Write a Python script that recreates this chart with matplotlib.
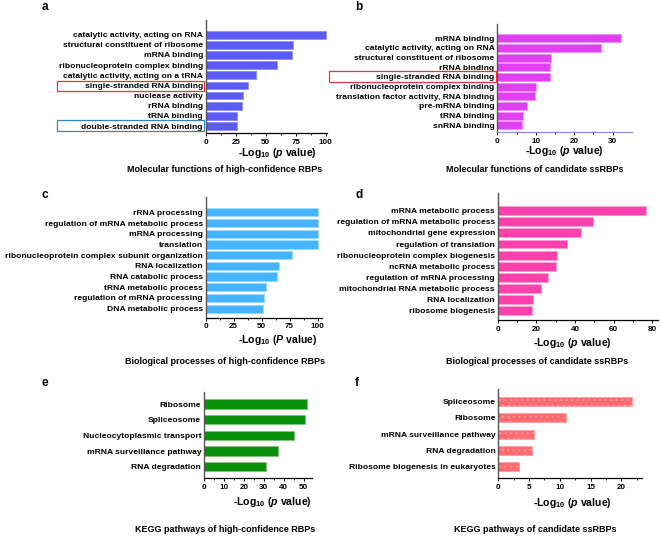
import matplotlib.pyplot as plt
from matplotlib.patches import Rectangle

plt.rcParams['font.family'] = ['Liberation Sans', 'DejaVu Sans']
plt.rcParams['font.weight'] = 'bold'
plt.rcParams['mathtext.fontset'] = 'custom'
plt.rcParams['mathtext.rm'] = 'Liberation Sans:bold'
plt.rcParams['mathtext.bf'] = 'Liberation Sans:bold'
plt.rcParams['mathtext.it'] = 'Liberation Sans:bold:italic'
plt.rcParams['mathtext.bfit'] = 'Liberation Sans:bold:italic'
plt.rcParams['hatch.linewidth'] = 0.6

# ---- data ----
mf_hc_terms = ['catalytic activity, acting on RNA', 'structural constituent of ribosome',
               'mRNA binding', 'ribonucleoprotein complex binding',
               'catalytic activity, acting on a tRNA', 'single-stranded RNA binding',
               'nuclease activity', 'rRNA binding', 'tRNA binding', 'double-stranded RNA binding']
mf_hc_vals = [100, 72.3, 71.5, 59.3, 42, 35.2, 30.7, 30.2, 26.3, 25.7]

mf_ss_terms = ['mRNA binding', 'catalytic activity, acting on RNA', 'structural constituent of ribosome',
               'rRNA binding', 'single-stranded RNA binding', 'ribonucleoprotein complex binding',
               'translation factor activity, RNA binding', 'pre-mRNA binding', 'tRNA binding',
               'snRNA binding']
mf_ss_vals = [32.3, 26.9, 13.9, 13.7, 13.7, 10.1, 9.9, 7.6, 6.6, 6.4]

bp_hc_terms = ['rRNA processing', 'regulation of mRNA metabolic process', 'mRNA processing',
               'translation', 'ribonucleoprotein complex subunit organization', 'RNA localization',
               'RNA catabolic process', 'tRNA metabolic process', 'regulation of mRNA processing',
               'DNA metabolic process']
bp_hc_vals = [100, 100, 100, 100, 77.3, 65.4, 64.2, 53.7, 52.5, 51]

bp_ss_terms = ['mRNA metabolic process', 'regulation of mRNA metabolic process',
               'mitochondrial gene expression', 'regulation of translation',
               'ribonucleoprotein complex biogenesis', 'ncRNA metabolic process',
               'regulation of mRNA processing', 'mitochondrial RNA metabolic process',
               'RNA localization', 'ribosome biogenesis']
bp_ss_vals = [76.7, 49.5, 42.9, 36, 30.5, 30.2, 25.9, 22.2, 18.1, 17.9]

kegg_hc_terms = ['Ribosome', 'Spliceosome', 'Nucleocytoplasmic transport',
                 'mRNA surveillance pathway', 'RNA degradation']
kegg_hc_vals = [51.5, 50.8, 45.3, 37, 31.1]

kegg_ss_terms = ['Spliceosome', 'Ribosome', 'mRNA surveillance pathway', 'RNA degradation',
                 'Ribosome biogenesis in eukaryotes']
kegg_ss_vals = [21.7, 11, 5.85, 5.4, 3.4]

W, H = 661, 537
fig = plt.figure(figsize=(W / 100, H / 100), dpi=100)


def px_axes(left, top, right, bottom):
    return fig.add_axes([left / W, 1 - bottom / H, (right - left) / W, (bottom - top) / H])


def panel(box, terms, vals, color, edge, xmax, xticks, minor, ylim_pad, bar_h,
          letter, letter_xy, xlabel, xlabel_xy, title, title_xy, hatch=None, bottom_color='black'):
    ax = px_axes(*box)
    n = len(terms)
    ypos = list(range(n))
    ax.barh(ypos, vals, height=bar_h, color=color, edgecolor=edge, linewidth=0.6, hatch=hatch)
    ax.set_yticks(ypos)
    ax.set_yticklabels(terms, fontsize=6.1, fontweight='bold')
    ax.set_ylim(n - 1 + ylim_pad[1], -ylim_pad[0])
    ax.set_xlim(0, xmax)
    ax.set_xticks(xticks)
    ax.set_xticks(minor, minor=True)
    ax.tick_params(axis='x', labelsize=5.8, length=2.5, width=0.7, pad=1.5)
    ax.tick_params(axis='x', which='minor', length=1.5, width=0.6)
    ax.tick_params(axis='y', length=0, pad=2)
    for lab in ax.get_xticklabels():
        lab.set_fontweight('bold')
    for s in ['top', 'right']:
        ax.spines[s].set_visible(False)
    ax.spines['left'].set_color('#555555')
    ax.spines['left'].set_linewidth(1.0)
    ax.spines['bottom'].set_color(bottom_color)
    ax.spines['bottom'].set_linewidth(0.9)
    fig.text(letter_xy[0] / W, 1 - letter_xy[1] / H, letter, fontsize=8.5, fontweight='bold',
             ha='center', va='center')
    fig.text(xlabel_xy[0] / W, 1 - xlabel_xy[1] / H, xlabel, fontsize=7.6, fontweight='bold',
             ha='center', va='center')
    fig.text(title_xy[0] / W, 1 - title_xy[1] / H, title, fontsize=6.5, fontweight='bold',
             ha='center', va='center')
    return ax


xl_p = r'-Log$_{\mathbf{10}}$ ($\mathit{p}$ value)'
xl_P = r'-Log$_{\mathbf{10}}$ ($\mathit{P}$ value)'

panel((205.7, 20, 327, 133), mf_hc_terms, mf_hc_vals, '#5B5BF4', '#8f8ff8', 101,
      [0, 25, 50, 75, 100], [12.5, 37.5, 62.5, 87.5], (1.45, 0.69), 0.75,
      'a', (45, 7), xl_p, (277, 153), 'Molecular functions of high-confidence RBPs', (225, 170))

panel((497.3, 24, 631.8, 132), mf_ss_terms, mf_ss_vals, '#E040F2', '#ee90f6', 35,
      [0, 10, 20, 30], [5, 15, 25], (1.48, 0.69), 0.8,
      'b', (359, 7), xl_p, (564, 151), 'Molecular functions of candidate ssRBPs', (535, 170),
      bottom_color='#8f8fe8')

panel((205.7, 197, 322, 317.7), bp_hc_terms, bp_hc_vals, '#45B5FF', '#9dd8ff', 104,
      [0, 25, 50, 75, 100], [12.5, 37.5, 62.5, 87.5], (1.43, 0.84), 0.78,
      'c', (45, 195), xl_P, (278, 340), 'Biological processes of high-confidence RBPs', (225, 362))

panel((497.7, 192.7, 658, 320), bp_ss_terms, bp_ss_vals, '#FF3FAB', '#ff9fd4', 83,
      [0, 20, 40, 60, 80], [10, 30, 50, 70], (1.62, 0.84), 0.8,
      'd', (359, 195), xl_p, (572, 343), 'Biological processes of candidate ssRBPs', (537, 362))

panel((204, 392, 311.6, 478), kegg_hc_terms, kegg_hc_vals, '#0A900A', '#7cc47c', 54,
      [0, 10, 20, 30, 40, 50], [5, 15, 25, 35, 45], (0.77, 0.72), 0.6,
      'e', (45, 383), xl_p, (272, 502), 'KEGG pathways of high-confidence RBPs', (225, 530))

panel((498.3, 389, 641.6, 478), kegg_ss_terms, kegg_ss_vals, '#FF6B70', '#ff9da0', 23.3,
      [0, 5, 10, 15, 20], [2.5, 7.5, 12.5, 17.5, 22.5], (0.76, 0.69), 0.55,
      'f', (357, 383), xl_p, (572, 503), 'KEGG pathways of candidate ssRBPs', (535, 530),
      hatch='...')

# highlight boxes around labels
boxes = [((57, 80.7, 204, 90.7), '#E8323C'),
         ((57, 120.3, 204, 130.7), '#2E86C8'),
         ((329, 71.3, 495.7, 81.7), '#E8323C')]
for (l, t, r, b), c in boxes:
    fig.add_artist(Rectangle((l / W, 1 - b / H), (r - l) / W, (b - t) / H,
                             transform=fig.transFigure, fill=False, edgecolor=c, linewidth=0.9))

fig.savefig('out.png', dpi=100)
